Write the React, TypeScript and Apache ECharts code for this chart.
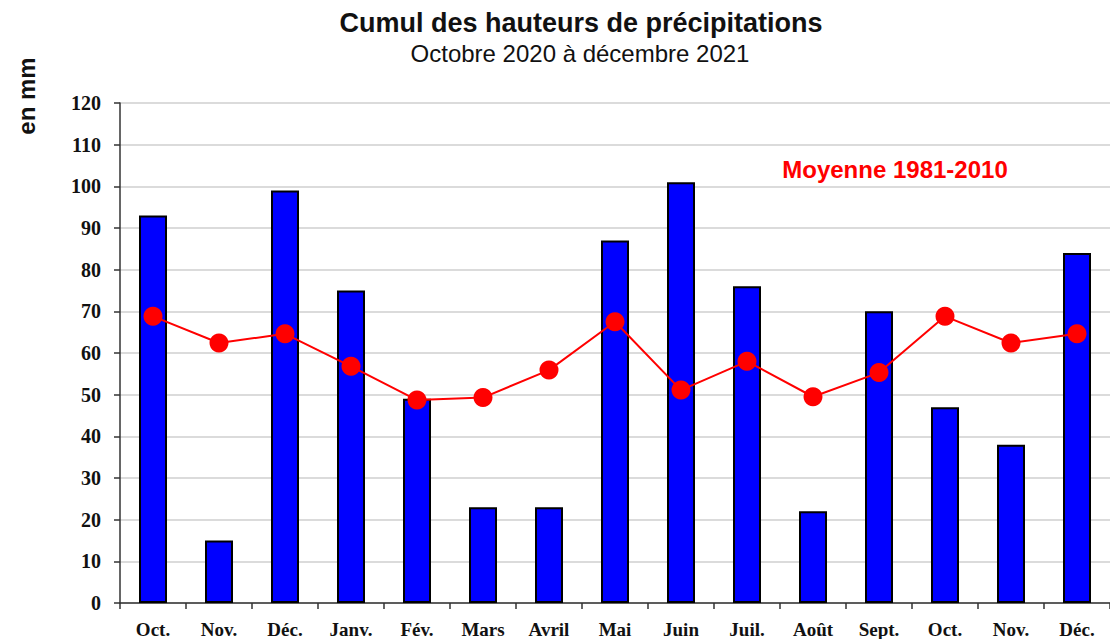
import React, { useEffect, useRef } from "react";
import * as echarts from "echarts";

const months = ["Oct.", "Nov.", "Déc.", "Janv.", "Fév.", "Mars", "Avril", "Mai", "Juin", "Juil.", "Août", "Sept.", "Oct.", "Nov.", "Déc."];
const precipitation = [93, 15, 99, 75, 49, 23, 23, 87, 101, 76, 22, 70, 47, 38, 84];
const normal19812010 = [68.8, 62.4, 64.6, 56.8, 48.7, 49.3, 55.9, 67.5, 51.1, 58.0, 49.5, 55.3, 68.8, 62.4, 64.6];

const SANS = "'Liberation Sans', Arial, sans-serif";
const SERIF = "'Liberation Serif', 'Times New Roman', serif";

export default function App() {
  const ref = useRef<HTMLDivElement>(null);
  useEffect(() => {
    if (!ref.current) return;
    const chart = echarts.init(ref.current, undefined, { renderer: "svg" });
    chart.setOption({
      animation: false,
      backgroundColor: "#ffffff",
      graphic: [
        {
          type: "text",
          x: 581,
          y: 23,
          style: {
            text: "Cumul des hauteurs de précipitations",
            font: `bold 27px ${SANS}`,
            fill: "#111",
            align: "center",
            verticalAlign: "middle",
          },
        },
        {
          type: "text",
          x: 580,
          y: 53,
          style: {
            text: "Octobre 2020 à décembre 2021",
            font: `24px ${SANS}`,
            fill: "#111",
            align: "center",
            verticalAlign: "middle",
          },
        },
        {
          type: "text",
          x: 26,
          y: 96,
          rotation: Math.PI / 2,
          style: {
            text: "en mm",
            font: `bold 24px ${SANS}`,
            fill: "#111",
            align: "center",
            verticalAlign: "middle",
          },
        },
        {
          type: "text",
          x: 895,
          y: 169,
          style: {
            text: "Moyenne 1981-2010",
            font: `bold 24px ${SANS}`,
            fill: "#ff0000",
            align: "center",
            verticalAlign: "middle",
          },
        },
      ],
      grid: { left: 120, top: 103, width: 1000, height: 500, containLabel: false },
      xAxis: {
        type: "category",
        data: months,
        axisLine: { show: true, lineStyle: { color: "#333", width: 1.5 } },
        axisTick: { show: true, alignWithLabel: false, length: 6, lineStyle: { color: "#333", width: 1.5 } },
        axisLabel: {
          interval: 0,
          margin: 17,
          fontFamily: SERIF,
          fontWeight: "bold",
          fontSize: 19,
          color: "#111",
        },
      },
      yAxis: {
        type: "value",
        min: 0,
        max: 120,
        interval: 10,
        axisLine: { show: true, lineStyle: { color: "#333", width: 1.5 } },
        axisTick: { show: true, length: 6, lineStyle: { color: "#333", width: 1.5 } },
        splitLine: { show: true, lineStyle: { color: "#cfcfcf", width: 1.5 } },
        axisLabel: {
          margin: 19,
          fontFamily: SERIF,
          fontWeight: "bold",
          fontSize: 20,
          color: "#111",
        },
      },
      series: [
        {
          type: "bar",
          data: precipitation,
          barWidth: 28,
          itemStyle: { color: "#0000ff", borderColor: "#000", borderWidth: 2 },
        },
        {
          type: "line",
          data: normal19812010,
          symbol: "circle",
          symbolSize: 19,
          lineStyle: { color: "#ff0000", width: 2 },
          itemStyle: { color: "#ff0000" },
        },
      ],
    });
    return () => chart.dispose();
  }, []);
  return <div ref={ref} style={{ width: 1110, height: 639, position: "absolute", left: 0, top: 0 }} />;
}
